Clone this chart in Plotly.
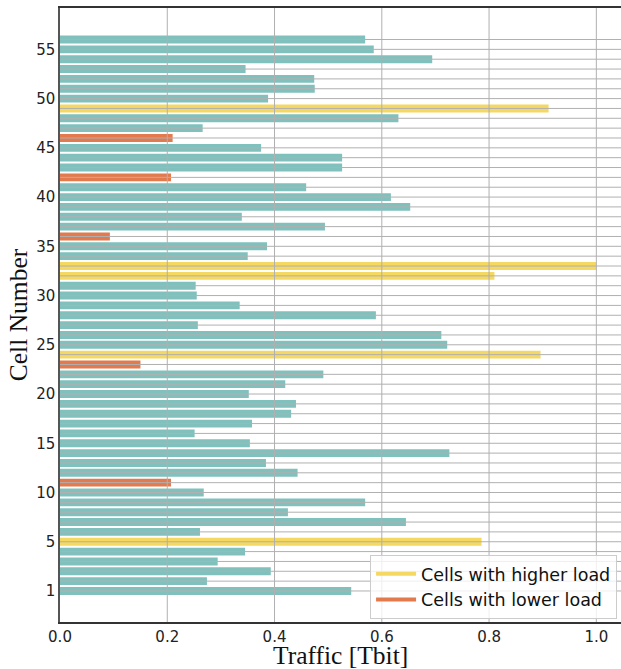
import plotly.graph_objects as go

# ---- data ----
cell_positions = list(range(57))
traffic = [0.543, 0.274, 0.393, 0.294, 0.345, 0.786, 0.261, 0.645, 0.425, 0.569,
           0.268, 0.207, 0.443, 0.384, 0.726, 0.354, 0.251, 0.358, 0.431, 0.440,
           0.352, 0.420, 0.491, 0.150, 0.896, 0.722, 0.711, 0.257, 0.589, 0.335,
           0.255, 0.253, 0.810, 1.000, 0.350, 0.386, 0.093, 0.494, 0.339, 0.653,
           0.617, 0.459, 0.207, 0.526, 0.526, 0.375, 0.210, 0.266, 0.631, 0.911,
           0.388, 0.475, 0.474, 0.346, 0.694, 0.585, 0.569]
high_cells = [5, 24, 32, 33, 49]
low_cells = [11, 23, 36, 42, 46]
ytick_vals = [0, 5, 10, 15, 20, 25, 30, 35, 40, 45, 50, 55]
ytick_text = ["1", "5", "10", "15", "20", "25", "30", "35", "40", "45", "50", "55"]
xtick_vals = [0.0, 0.2, 0.4, 0.6, 0.8, 1.0]
xtick_text = ["0.0", "0.2", "0.4", "0.6", "0.8", "1.0"]
x_title = "Traffic [Tbit]"
y_title = "Cell Number"

TEAL = "#80c1be"
YELLOW = "#f5d862"
ORANGE = "#e27a4e"
GRID = "#b0b0b0"

colors = []
for p in cell_positions:
    if p in high_cells:
        colors.append(YELLOW)
    elif p in low_cells:
        colors.append(ORANGE)
    else:
        colors.append(TEAL)

XMAX = 1.046
YMIN, YMAX = -3.15, 59.2

fig = go.Figure()
fig.add_trace(go.Bar(
    x=traffic, y=cell_positions, orientation="h", width=0.8,
    marker=dict(color=colors, line=dict(width=0)),
    showlegend=False, hoverinfo="x+y"))

# grid drawn above the bars (as in the reference)
gx, gy = [], []
for p in cell_positions:
    gx += [0, XMAX, None]
    gy += [p, p, None]
for v in xtick_vals[1:]:
    gx += [v, v, None]
    gy += [YMIN, YMAX, None]
fig.add_trace(go.Scatter(x=gx, y=gy, mode="lines",
                         line=dict(color=GRID, width=1),
                         showlegend=False, hoverinfo="skip"))

# legend entries
fig.add_trace(go.Scatter(x=[None], y=[None], mode="lines",
                         line=dict(color=YELLOW, width=4),
                         name="Cells with higher load"))
fig.add_trace(go.Scatter(x=[None], y=[None], mode="lines",
                         line=dict(color=ORANGE, width=4),
                         name="Cells with lower load"))

fig.update_layout(
    width=621, height=669,
    margin=dict(l=60, r=0, t=8, b=47, autoexpand=False),
    plot_bgcolor="white", paper_bgcolor="white",
    font=dict(family="DejaVu Sans", size=15, color="#222222"),
    showlegend=True,
    legend=dict(x=0.993, y=0.005, xanchor="right", yanchor="bottom",
                bgcolor="rgba(255,255,255,0.8)", bordercolor="#cccccc",
                borderwidth=1, font=dict(family="DejaVu Sans", size=17.5, color="#111111"),
                itemwidth=40, tracegroupgap=0),
    bargap=0.2,
)
fig.add_annotation(text=x_title, xref="paper", yref="paper", x=0.5, y=-0.055,
                   xanchor="center", yanchor="middle", showarrow=False, borderpad=0,
                   font=dict(family="Liberation Serif", size=25.5, color="#111111"))
fig.update_xaxes(
    range=[0, XMAX], tickvals=xtick_vals, ticktext=xtick_text,
    showgrid=False, zeroline=False, ticks="", automargin=False,
    showline=True, linecolor="#333333", linewidth=1.5, mirror=True,
    tickfont=dict(family="DejaVu Sans", size=15, color="#222222"),
)
fig.update_yaxes(
    range=[YMIN, YMAX], tickvals=ytick_vals, ticktext=ytick_text,
    showgrid=False, zeroline=False, ticks="", automargin=False,
    showline=True, linecolor="#555555", linewidth=1.5,
    title=dict(text=y_title, font=dict(family="Liberation Serif", size=25.5, color="#111111"),
               standoff=1),
    tickfont=dict(family="DejaVu Sans", size=15, color="#222222"),
)

fig.write_html("out.html", config={"displayModeBar": False},
               post_script="document.body.style.margin='0px';document.body.style.overflow='hidden';")
